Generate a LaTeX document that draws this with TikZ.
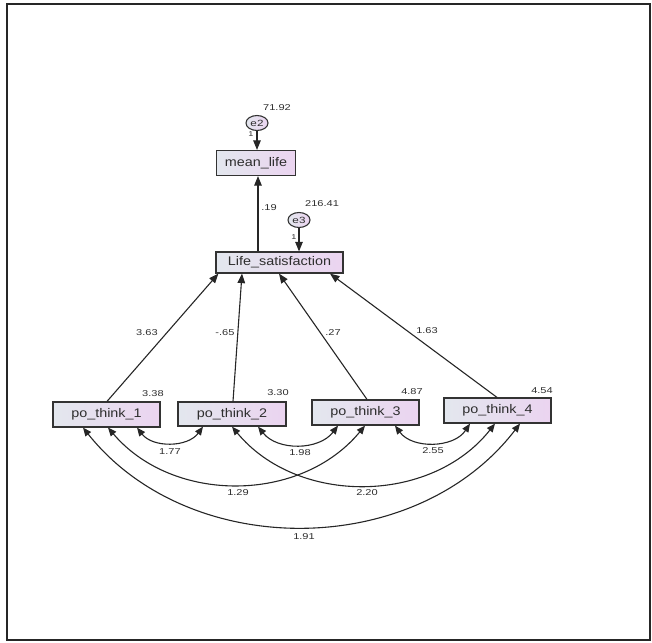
\documentclass[tikz,border=0pt]{standalone}
\usepackage{fontspec}
\setmainfont{Liberation Sans}
\newfontfamily\boxfnt[FakeStretch=1.15]{Liberation Sans}
\newfontfamily\lblfnt[FakeStretch=1.3]{Liberation Sans}
\usetikzlibrary{arrows.meta,shapes.geometric,calc}
\definecolor{boxl}{HTML}{E3E7EE}
\definecolor{boxr}{HTML}{EBD4F0}
\definecolor{edgec}{HTML}{333333}
\definecolor{txtc}{HTML}{2E2E2E}
\tikzset{
  varbox/.style={draw=edgec, line width=1.2pt, left color=boxl, right color=boxr,
    inner sep=0pt, font=\boxfnt\fontsize{12.5}{14}\selectfont, text=txtc},
  errnode/.style={ellipse, draw=edgec, line width=1.1pt, left color=boxl, right color=boxr,
    minimum width=22pt, minimum height=15pt, inner sep=0pt,
    font=\lblfnt\fontsize{9}{10}\selectfont, text=txtc},
  lbl/.style={font=\lblfnt\fontsize{8.5}{10}\selectfont, text=txtc, inner sep=0pt},
  tiny/.style={font=\lblfnt\fontsize{7}{8}\selectfont, text=txtc, inner sep=0pt},
  path1/.style={draw=black!85, line width=1.1pt, -{Triangle[length=9.5pt,width=7.5pt]}},
  cov/.style={draw=black!85, line width=1.1pt, {Triangle[length=8.5pt,width=7pt]}-{Triangle[length=8.5pt,width=7pt]}},
}
\begin{document}
\begin{tikzpicture}[x=1pt,y=-1pt]
\useasboundingbox (0,0) rectangle (652,642);
\draw[draw=black!85, line width=1.6pt] (7,4) rectangle (650,640);

% nodes
\node[varbox, minimum width=79pt, minimum height=25pt] (mean) at (256,163) {mean\_life};
\node[errnode] (e2) at (257,123) {e2};
\node[varbox, minimum width=127pt, minimum height=21pt] (life) at (279.5,262.5) {Life\_satisfaction};
\node[errnode] (e3) at (299,220) {e3};
\node[varbox, minimum width=107pt, minimum height=25pt] (po1) at (106.5,414.5) {po\_think\_1};
\node[varbox, minimum width=108pt, minimum height=24pt] (po2) at (232,414) {po\_think\_2};
\node[varbox, minimum width=107pt, minimum height=25pt] (po3) at (365.5,412.5) {po\_think\_3};
\node[varbox, minimum width=107pt, minimum height=25pt] (po4) at (497.5,410.5) {po\_think\_4};

% error arrows
\draw[path1] (e2.south) -- ([xshift=1]mean.north);
\draw[path1] (e3.south) -- ([xshift=19.5]life.north);
\draw[path1] ([xshift=-21.5]life.north) -- ([xshift=2]mean.south);

% regression arrows
\draw[path1] ([xshift=0.5]po1.north) -- ([xshift=3]life.south west);
\draw[path1] ([xshift=1]po2.north) -- ([xshift=-37.5]life.south);
\draw[path1] ([xshift=1.5]po3.north) -- ([xshift=-0.5]life.south);
\draw[path1] ([xshift=-0.5]po4.north) -- ([xshift=50.5]life.south);

% covariances
\draw[cov] ([xshift=30.5]po1.south) to[bend right=53] ([xshift=-29]po2.south);
\draw[cov] ([xshift=26]po2.south) to[bend right=52] ([xshift=-27.5]po3.south);
\draw[cov] ([xshift=29.5]po3.south) to[bend right=55] ([xshift=-27.5]po4.south);
\draw[cov] ([xshift=1.5]po1.south) to[bend right=50] ([xshift=-0.5]po3.south);
\draw[cov] ([xshift=0]po2.south) to[bend right=51] ([xshift=-2.5]po4.south);
\draw[cov] ([xshift=-23.5]po1.south) to[bend right=52] ([xshift=22.5]po4.south);

% labels
\node[lbl] (l7192) at (277,108) {71.92};
\node[tiny] (l1a) at (251,134) {1};
\node[lbl] (l19) at (269,208) {.19};
\node[lbl] (l21641) at (322,204) {216.41};
\node[tiny] (l1b) at (294,237) {1};
\node[lbl] (l363) at (147,333) {3.63};
\node[lbl] (l065) at (225,333) {-.65};
\node[lbl] (l27) at (333,333) {.27};
\node[lbl] (l163) at (427,331) {1.63};
\node[lbl] (l338) at (153,394) {3.38};
\node[lbl] (l330) at (278,393) {3.30};
\node[lbl] (l487) at (412,392) {4.87};
\node[lbl] (l454) at (542,391) {4.54};
\node[lbl] (l177) at (170,452) {1.77};
\node[lbl] (l198) at (300,453) {1.98};
\node[lbl] (l255) at (433,451) {2.55};
\node[lbl] (l129) at (238,493) {1.29};
\node[lbl] (l220) at (367,493) {2.20};
\node[lbl] (l191) at (304,537) {1.91};
\end{tikzpicture}
\end{document}
